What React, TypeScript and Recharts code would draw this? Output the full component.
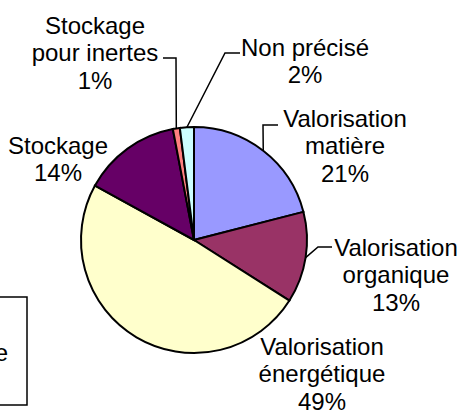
import { PieChart, Pie, Cell } from "recharts";

// Filières de traitement (part en %)
const categories = [
  "Valorisation matière",
  "Valorisation organique",
  "Valorisation énergétique",
  "Stockage",
  "Stockage pour inertes",
  "Non précisé",
];
const shares = [21, 13, 49, 14, 1, 2];
const labelLines = [
  ["Valorisation", "matière"],
  ["Valorisation", "organique"],
  ["Valorisation", "énergétique"],
  ["Stockage"],
  ["Stockage", "pour inertes"],
  ["Non précisé"],
];
const colors = ["#9999FF", "#993366", "#FFFFCC", "#660066", "#FF8080", "#CCFFFF"];

const data = categories.map((name, i) => ({ name, value: shares[i] }));

// label placement relative to pie centre; leader = elbow + end, relative to centre
const layout = [
  { dx: 151, dy: -122, leader: [[69, -115], [84, -115]] },
  { dx: 202, dy: 7, leader: [[124, 7], [138, 7]] },
  { dx: 128, dy: 106, leader: null },
  { dx: -136, dy: -95, leader: null },
  { dx: -99, dy: -215, leader: [[-18, -182], [-31, -182]] },
  { dx: 111, dy: -193, leader: [[31, -187], [46, -187]] },
];

const FONT = "'Liberation Sans', Arial, sans-serif";
const LINE_H = 27.5;
const RAD = Math.PI / 180;

const renderLabel = (props: any) => {
  const { cx, cy, midAngle, outerRadius, index } = props;
  const cfg = layout[index];
  const ex = cx + outerRadius * Math.cos(-midAngle * RAD);
  const ey = cy + outerRadius * Math.sin(-midAngle * RAD);
  const lines = [...labelLines[index], `${shares[index]}%`];
  const tx = cx + cfg.dx;
  const ty = cy + cfg.dy;
  return (
    <g key={`lbl-${index}`}>
      {cfg.leader && (
        <polyline
          points={`${ex},${ey} ${cx + cfg.leader[0][0]},${cy + cfg.leader[0][1]} ${cx + cfg.leader[1][0]},${cy + cfg.leader[1][1]}`}
          fill="none"
          stroke="#000"
          strokeWidth={1.5}
        />
      )}
      <text
        x={tx}
        y={ty}
        textAnchor="middle"
        fontFamily={FONT}
        fontSize={24}
        fill="#000"
      >
        {lines.map((l, i) => (
          <tspan key={i} x={tx} y={ty + i * LINE_H} dominantBaseline="central">
            {l}
          </tspan>
        ))}
      </text>
    </g>
  );
};

export default function App() {
  return (
    <div style={{ position: "absolute", left: 0, top: 0, width: 460, height: 412, background: "#fff" }}>
      <PieChart width={460} height={412} margin={{ top: 0, right: 0, bottom: 0, left: 0 }}>
        <Pie
          data={data}
          dataKey="value"
          nameKey="name"
          cx={194}
          cy={240}
          outerRadius={113}
          startAngle={90}
          endAngle={-270}
          stroke="#000"
          strokeWidth={2}
          label={renderLabel}
          labelLine={false}
          isAnimationActive={false}
        >
          {data.map((d, i) => (
            <Cell key={d.name} fill={colors[i]} />
          ))}
        </Pie>
      </PieChart>
      <svg
        width={40}
        height={412}
        style={{ position: "absolute", left: 0, top: 0 }}
      >
        <rect x={-20} y={297} width={47} height={108} fill="#fff" stroke="#000" strokeWidth={1.5} />
        <text x={8} y={352} textAnchor="end" dominantBaseline="central" fontFamily={FONT} fontSize={24} fill="#000">
          e
        </text>
      </svg>
    </div>
  );
}
